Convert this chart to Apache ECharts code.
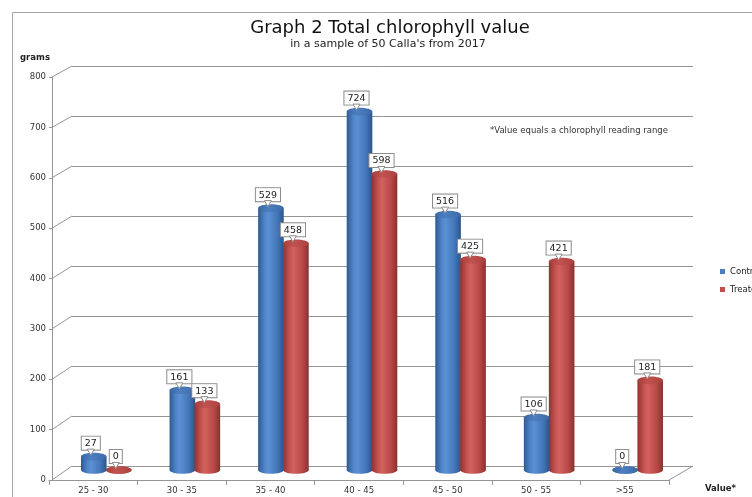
<!DOCTYPE html>
<html><head><meta charset="utf-8">
<script src="https://cdn.jsdelivr.net/npm/echarts@6/dist/echarts.min.js"></script>
<style>html,body{margin:0;padding:0;background:#fff}#c{width:752px;height:497px}</style>
</head><body><div id="c"></div>
<script>
const categories = ['25 - 30','30 - 35','35 - 40','40 - 45','45 - 50','50 - 55','>55'];
const controlValues = [27,161,529,724,516,106,0];
const treatedValues = [0,133,458,598,425,421,181];
const yTicks = [0,100,200,300,400,500,600,700,800];
const seriesNames = ['Control','Treated'];

const FONT = 'DejaVu Sans';
const W = 752, H = 497;
const L = { frontLeft:49, frontRight:669, axisX:52, frontTop:77, frontBottom:480,
  backLeft:72, backRight:693, backTop:66, backBottom:466,
  barLeft:62, barRight:682, barTop:74, barBottom:470 };
const GRID_COLOR = '#959595';

const pal = [
  {main:'#4a7ebf', body:['#2d5a93','#4f84c8','#5a90d4','#4477b9','#2b558c'], cap:['#3a67a3','#4d7fc0','#3d6aa8']},
  {main:'#c0504d', body:['#8e3432','#c4524f','#d2625e','#b94946','#873230'], cap:['#a53f3c','#c2524f','#a9423f']}
];

function makeRender(si){
  const p = pal[si];
  return function(params, api){
    const ci = api.value(0), v = api.value(1);
    const base = api.coord([ci, 0]);
    const top = api.coord([ci, v]);
    const band = api.size([1, 0])[0];
    const w = band * 0.289;
    const cx = base[0] + (si === 0 ? -w/2 + 0.3 : w/2 - 0.3);
    const rx = w/2, ry = 3.8;
    const grad = new echarts.graphic.LinearGradient(0,0,1,0,[
      {offset:0,color:p.body[0]},{offset:0.25,color:p.body[1]},{offset:0.4,color:p.body[2]},
      {offset:0.75,color:p.body[3]},{offset:1,color:p.body[4]}]);
    const capGrad = new echarts.graphic.LinearGradient(0,0,1,0,[
      {offset:0,color:p.cap[0]},{offset:0.4,color:p.cap[1]},{offset:1,color:p.cap[2]}]);
    const children = [];
    children.push({type:'ellipse', shape:{cx:cx, cy:base[1], rx:rx, ry:ry}, style:{fill:grad}});
    if (top[1] < base[1]) {
      children.push({type:'rect', shape:{x:cx-rx, y:top[1], width:w, height:base[1]-top[1]}, style:{fill:grad}});
    }
    children.push({type:'ellipse', shape:{cx:cx, cy:top[1], rx:rx, ry:ry}, style:{fill:capGrad}});
    const lx = cx - 3, by = top[1] - 7;
    children.push({type:'text', x:lx, y:by, style:{text:String(v), fontSize:9.5, fontFamily:FONT, fill:'#222',
      align:'center', verticalAlign:'bottom', backgroundColor:'#fff', borderColor:'#8c8c8c', borderWidth:1,
      padding:[2,3,1,3]}});
    children.push({type:'polygon', shape:{points:[[lx-3.5,by-0.5],[lx+3.5,by-0.5],[lx,by+5.5]]},
      style:{fill:'#fff', stroke:'#8c8c8c', lineWidth:1}});
    return {type:'group', children:children};
  };
}

const chart = echarts.init(document.getElementById('c'), null, {renderer:'canvas'});
const axisGray = {color:GRID_COLOR, width:1};
const option = {
  backgroundColor:'#fff',
  animation:false,
  textStyle:{fontFamily:FONT},
  grid:[
    {left:L.frontLeft, right:W-L.frontRight, top:L.frontTop, bottom:H-L.frontBottom},
    {left:L.backLeft, right:W-L.backRight, top:L.backTop, bottom:H-L.backBottom},
    {left:L.barLeft, right:W-L.barRight, top:L.barTop, bottom:H-L.barBottom}
  ],
  xAxis:[
    {type:'category', gridIndex:0, data:categories, boundaryGap:true,
      axisLine:{lineStyle:axisGray}, axisTick:{show:true, length:5, lineStyle:axisGray},
      axisLabel:{fontSize:8.5, color:'#333', margin:6, fontFamily:FONT}},
    {type:'category', gridIndex:1, data:categories, show:false},
    {type:'category', gridIndex:2, data:categories, show:false}
  ],
  yAxis:[
    {type:'value', gridIndex:0, min:0, max:800, interval:100, offset:-3,
      axisLine:{show:true, lineStyle:axisGray}, axisTick:{show:true, length:3, lineStyle:axisGray},
      axisLabel:{fontSize:8.5, color:'#333', margin:6, fontFamily:FONT}, splitLine:{show:false}},
    {type:'value', gridIndex:1, min:0, max:800, interval:100,
      axisLine:{show:false}, axisTick:{show:false}, axisLabel:{show:false},
      splitLine:{show:true, lineStyle:axisGray}},
    {type:'value', gridIndex:2, min:0, max:800, show:false, splitLine:{show:false}}
  ],
  legend:{orient:'vertical', left:715, top:262, itemWidth:5, itemHeight:5, itemGap:9, icon:'rect',
    data:seriesNames, textStyle:{fontSize:8.5, color:'#222', fontFamily:FONT}},
  series:[
    {name:seriesNames[0], type:'custom', xAxisIndex:2, yAxisIndex:2, itemStyle:{color:pal[0].main},
      renderItem:makeRender(0), encode:{x:0, y:1}, data:controlValues.map((v,i)=>[i,v]), clip:false},
    {name:seriesNames[1], type:'custom', xAxisIndex:2, yAxisIndex:2, itemStyle:{color:pal[1].main},
      renderItem:makeRender(1), encode:{x:0, y:1}, data:treatedValues.map((v,i)=>[i,v]), clip:false}
  ]
};
chart.setOption(option);

const graphics = [
  {type:'line', shape:{x1:12.5, y1:12.5, x2:W, y2:12.5}, style:{stroke:'#a6a6a6', lineWidth:1}},
  {type:'line', shape:{x1:12.5, y1:12.5, x2:12.5, y2:H}, style:{stroke:'#a6a6a6', lineWidth:1}},
  {type:'text', x:390, y:28, style:{text:'Graph 2 Total chlorophyll value', fontSize:18, fontFamily:FONT, fill:'#111', align:'center', verticalAlign:'middle'}},
  {type:'text', x:388, y:44, style:{text:"in a sample of 50 Calla's from 2017", fontSize:11, fontFamily:FONT, fill:'#222', align:'center', verticalAlign:'middle'}},
  {type:'text', x:35, y:58, style:{text:'grams', fontSize:8.5, fontWeight:'bold', fontFamily:FONT, fill:'#222', align:'center', verticalAlign:'middle'}},
  {type:'text', x:490, y:131, style:{text:'*Value equals a chlorophyll reading range', fontSize:8.5, fontFamily:FONT, fill:'#333', align:'left', verticalAlign:'middle'}},
  {type:'text', x:705, y:489, style:{text:'Value*', fontSize:8.5, fontWeight:'bold', fontFamily:FONT, fill:'#222', align:'left', verticalAlign:'middle'}}
];
yTicks.forEach(function(v){
  const yf = chart.convertToPixel({yAxisIndex:0}, v);
  const yb = chart.convertToPixel({yAxisIndex:1}, v);
  graphics.push({type:'line', z:1, shape:{x1:L.axisX, y1:yf, x2:L.backLeft, y2:yb}, style:{stroke:GRID_COLOR, lineWidth:1}});
});
const y0f = chart.convertToPixel({yAxisIndex:0}, 0);
const y0b = chart.convertToPixel({yAxisIndex:1}, 0);
graphics.push({type:'line', z:1, shape:{x1:L.frontRight, y1:y0f, x2:L.backRight, y2:y0b}, style:{stroke:GRID_COLOR, lineWidth:1}});
chart.setOption({graphic:graphics});
</script></body></html>
